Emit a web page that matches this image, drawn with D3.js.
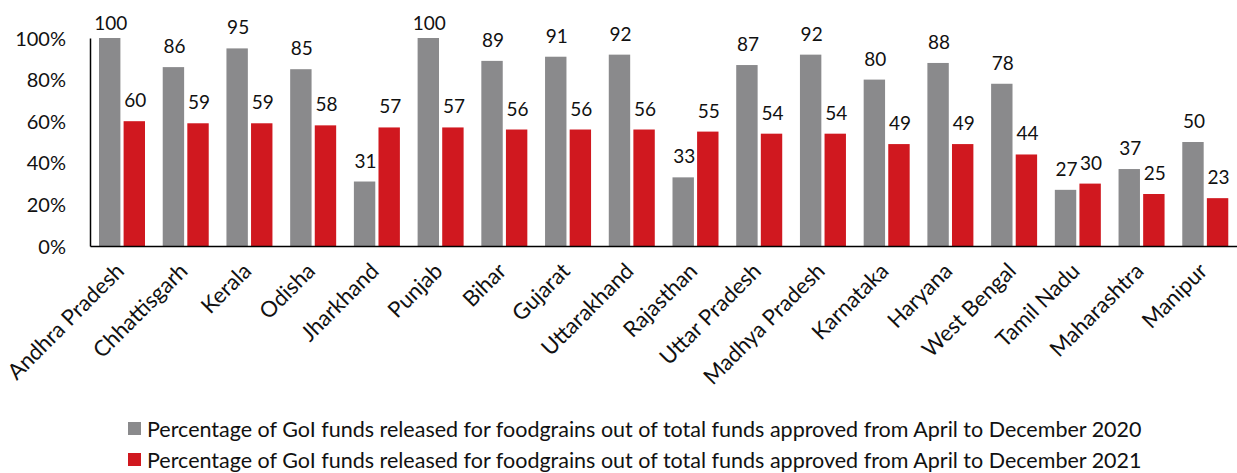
<!DOCTYPE html>
<html>
<head>
<meta charset="utf-8">
<script src="https://cdn.jsdelivr.net/npm/d3@7"></script>
<style>
  body { margin: 0; background: #fff; }
  svg, svg text { font-family: Lato, "Open Sans", sans-serif; }
</style>
</head>
<body>
<div id="chart"></div>
<script>
// Data
const states = ["Andhra Pradesh", "Chhattisgarh", "Kerala", "Odisha", "Jharkhand", "Punjab",
  "Bihar", "Gujarat", "Uttarakhand", "Rajasthan", "Uttar Pradesh", "Madhya Pradesh",
  "Karnataka", "Haryana", "West Bengal", "Tamil Nadu", "Maharashtra", "Manipur"];
const funds2020 = [100, 86, 95, 85, 31, 100, 89, 91, 92, 33, 87, 92, 80, 88, 78, 27, 37, 50];
const funds2021 = [60, 59, 59, 58, 57, 57, 56, 56, 56, 55, 54, 54, 49, 49, 44, 30, 25, 23];
const seriesNames = [
  "Percentage of GoI funds released for foodgrains out of total funds approved from April to December 2020",
  "Percentage of GoI funds released for foodgrains out of total funds approved from April to December 2021"
];
const colors = ["#8a8a8c", "#d0181f"];
const yTicks = [0, 20, 40, 60, 80, 100];

const W = 1237, H = 473;
const margin = { top: 38, right: 0, bottom: 227, left: 90 };
const width = W - margin.left - margin.right;
const height = H - margin.top - margin.bottom;

const svg = d3.select("#chart").append("svg")
  .attr("width", W).attr("height", H);

const g = svg.append("g").attr("transform", `translate(${margin.left},${margin.top})`);

const x = d3.scaleBand().domain(states).range([0, width]).paddingInner(0).paddingOuter(0);
const x1 = d3.scaleBand().domain([0, 1]).range([9, 55]).paddingInner(0.13);
const y = d3.scaleLinear().domain([0, 100]).range([height, 0]);

const rows = states.map((s, i) => ({ state: s, vals: [funds2020[i], funds2021[i]] }));

const grp = g.selectAll(".grp").data(rows).enter().append("g")
  .attr("transform", d => `translate(${x(d.state)},0)`);

grp.selectAll("rect").data(d => d.vals).enter().append("rect")
  .attr("x", (d, i) => x1(i))
  .attr("width", x1.bandwidth())
  .attr("y", d => y(d))
  .attr("height", d => y(0) - y(d))
  .attr("fill", (d, i) => colors[i]);

grp.selectAll("text").data(d => d.vals).enter().append("text")
  .attr("x", (d, i) => x1(i) + x1.bandwidth() / 2 + 1)
  .attr("y", d => Math.max(y(d) - 14, -8))
  .attr("text-anchor", "middle")
  .attr("font-size", 19)
  .attr("fill", "#111")
  .text(d => d);

// axes
const yAxis = g.append("g")
  .call(d3.axisLeft(y).tickValues(yTicks).tickSize(0).tickPadding(24).tickFormat(d => d + "%"));
yAxis.select(".domain").attr("stroke", "#000").attr("stroke-width", 1.5);
yAxis.selectAll("text").attr("font-size", 20).attr("fill", "#111")
  .attr("font-family", "Lato, sans-serif").attr("dy", "0.35em");

const xAxis = g.append("g").attr("transform", `translate(0,${height})`)
  .call(d3.axisBottom(x).tickSize(0).tickPadding(0));
xAxis.select(".domain").attr("stroke", "#000").attr("stroke-width", 1.5);
xAxis.selectAll("text")
  .attr("font-size", 22)
  .attr("fill", "#111")
  .attr("font-family", "Lato, sans-serif")
  .attr("text-anchor", "end")
  .attr("transform", "translate(-2,21) rotate(-45)")
  .attr("dy", "0.35em");

// legend
const legend = svg.append("g").attr("transform", "translate(128,422)");
seriesNames.forEach((name, i) => {
  const row = legend.append("g").attr("transform", `translate(0,${i * 31})`);
  row.append("rect").attr("width", 13).attr("height", 13).attr("fill", colors[i]);
  row.append("text").attr("x", 19).attr("y", 7).attr("dy", "0.35em")
    .attr("font-size", 21.5).attr("fill", "#111").text(name);
});
</script>
</body>
</html>
